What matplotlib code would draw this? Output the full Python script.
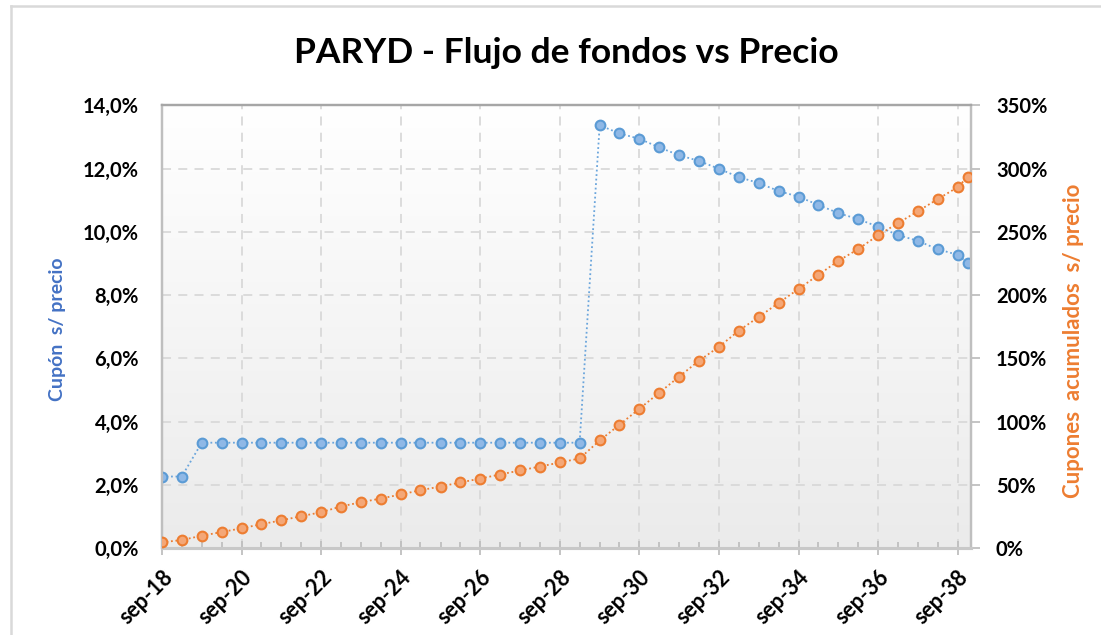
import matplotlib.pyplot as plt
import matplotlib.dates as mdates
import numpy as np
import pandas as pd
from matplotlib.colors import LinearSegmentedColormap
from matplotlib.lines import Line2D
from matplotlib.ticker import FixedLocator, FuncFormatter, MultipleLocator

plt.rcParams["font.family"] = ["Lato", "DejaVu Sans"]
plt.rcParams["font.weight"] = "bold"

# fechas de pago semestrales (mar/sep) + vencimiento dic-38
fechas = list(pd.date_range("2018-09-01", "2038-09-01", freq="6MS")) + [pd.Timestamp("2038-12-01")]

# cupón s/ precio (%)
cupon = [2.26, 2.26,
         3.33, 3.33, 3.33, 3.33, 3.33, 3.33, 3.33, 3.33, 3.33, 3.33,
         3.33, 3.33, 3.33, 3.33, 3.33, 3.33, 3.33, 3.33, 3.33, 3.33,
         13.37, 13.11, 12.94, 12.67, 12.42, 12.24, 11.99, 11.73, 11.54, 11.29,
         11.11, 10.85, 10.59, 10.40, 10.16, 9.90, 9.71, 9.45, 9.27, 9.02]

# cupones acumulados s/ precio (%)
acumulado = [4.5, 6.3, 9.7, 12.6, 15.6, 18.8, 21.9, 25.1, 28.3, 32.8,
             36.2, 39.1, 42.3, 45.7, 48.6, 51.8, 54.9, 58.1, 61.3, 64.4,
             67.6, 70.8,
             85.0, 97.4, 110.1, 122.7, 135.5, 148.1, 159.1, 171.8, 182.7, 193.7,
             204.8, 215.9, 227.0, 236.3, 247.3, 256.8, 266.3, 275.8, 285.3, 293.3]

tick_fechas = pd.date_range("2018-09-01", "2038-09-01", freq="24MS")
tick_labels = ["sep-18", "sep-20", "sep-22", "sep-24", "sep-26", "sep-28",
               "sep-30", "sep-32", "sep-34", "sep-36", "sep-38"]

W, H = 1101, 635
fig = plt.figure(figsize=(W / 100, H / 100), dpi=100)
pos = [162 / W, 1 - 548 / H, (971 - 162) / W, (548 - 105.3) / H]

# fondo degradado del área de trazado
bg = fig.add_axes(pos)
cmap = LinearSegmentedColormap.from_list("fondo", ["#ebebeb", "#ffffff"])
bg.imshow(np.linspace(0, 1, 256).reshape(-1, 1), cmap=cmap, aspect="auto",
          origin="lower", extent=[0, 1, 0, 1])
bg.axis("off")

ax = fig.add_axes(pos)
ax.patch.set_alpha(0)
ax2 = ax.twinx()

x = mdates.date2num(fechas)
ax.plot(x, np.array(cupon) / 100, ls=(0, (1, 1.5)), lw=1.3, color="#6aa5dc",
        marker="o", ms=7, mfc="#8fb8e6", mec="#5b9bd5", mew=1.5, zorder=4)
ax2.plot(x, np.array(acumulado) / 100, ls=(0, (1, 1.5)), lw=1.3, color="#ed7d31",
         marker="o", ms=7, mfc="#f4a777", mec="#ed7d31", mew=1.5, zorder=3)

ax.set_xlim(mdates.date2num(pd.Timestamp("2018-09-01")), mdates.date2num(pd.Timestamp("2039-01-01")))
ax.set_ylim(0, 0.14)
ax2.set_ylim(0, 3.5)

ax.yaxis.set_major_locator(MultipleLocator(0.02))
ax.yaxis.set_major_formatter(FuncFormatter(lambda v, p: f"{v * 100:.1f}%".replace(".", ",")))
ax2.yaxis.set_major_locator(MultipleLocator(0.5))
ax2.yaxis.set_major_formatter(FuncFormatter(lambda v, p: f"{v * 100:.0f}%"))

ax.xaxis.set_major_locator(FixedLocator(mdates.date2num(tick_fechas)))
ax.xaxis.set_minor_locator(FixedLocator(x[:-1]))
ax.set_xticklabels(tick_labels, rotation=45, ha="right", va="top", rotation_mode="anchor")

ax.grid(True, which="major", ls=(0, (5, 4)), color="#d9d9d9", lw=1.3)
ax.set_axisbelow(True)

ax.tick_params(axis="y", length=0, pad=16.5, labelsize=14.5)
ax2.tick_params(axis="y", direction="out", length=6.5, width=1.3, color="#bfbfbf",
                pad=11.5, labelsize=14.5)
ax.tick_params(axis="x", which="major", direction="inout", length=10, width=1.3,
               color="#bfbfbf", pad=8, labelsize=15.5)
ax.tick_params(axis="x", which="minor", direction="in", length=4.5, width=1.3, color="#bfbfbf")

for a in (ax, ax2):
    a.spines["left"].set_color("#bfbfbf")
    a.spines["left"].set_linewidth(1.6)
    a.spines["right"].set_color("#bfbfbf")
    a.spines["right"].set_linewidth(1.6)
    a.spines["top"].set_color("#a6a6a6")
    a.spines["top"].set_linewidth(1.6)
    a.spines["bottom"].set_color("#c8c8c8")
    a.spines["bottom"].set_linewidth(2.2)

fig.text(566 / W, 1 - 63 / H, "PARYD - Flujo de fondos vs Precio", ha="center",
         va="baseline", fontsize=25.5, fontweight="bold")
fig.text(57 / W, 1 - 329 / H, "Cupón  s/ precio", rotation=90, ha="center", va="center",
         color="#4472c4", fontsize=14, fontweight="bold")
fig.text(1073 / W, 1 - 341 / H, "Cupones  acumulados  s/ precio", rotation=90, ha="center",
         va="center", color="#ed7d31", fontsize=16, fontweight="bold")

# borde del gráfico
fig.add_artist(Line2D([10.7 / W, 10.7 / W], [0, 1 - 5.7 / H], color="#d9d9d9", lw=1.8))
fig.add_artist(Line2D([10.7 / W, 1], [1 - 5.7 / H, 1 - 5.7 / H], color="#d9d9d9", lw=1.8))

fig.savefig("out.png", dpi=100)
